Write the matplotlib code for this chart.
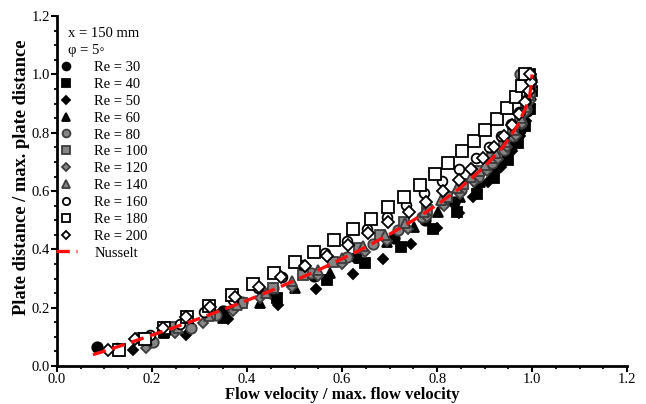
import matplotlib
matplotlib.use("Agg")
import matplotlib.pyplot as plt
from matplotlib.ticker import MultipleLocator, FormatStrFormatter

plt.rcParams['font.family'] = ['Liberation Serif', 'DejaVu Serif']

# ---- data ----
re30_x = [0.085, 0.235, 0.35, 0.45, 0.54, 0.63, 0.71, 0.775, 0.836, 0.884, 0.925, 0.955, 0.975, 0.99, 0.995, 0.99]
re30_y = [0.065, 0.127, 0.19, 0.25, 0.31, 0.374, 0.44, 0.50, 0.562, 0.627, 0.69, 0.75, 0.81, 0.875, 0.94, 1.0]

re40_x = [0.225, 0.35, 0.463, 0.568, 0.648, 0.724, 0.792, 0.842, 0.884, 0.92, 0.949, 0.97, 0.985, 0.995, 1.0, 0.995]
re40_y = [0.117, 0.176, 0.235, 0.294, 0.353, 0.408, 0.47, 0.528, 0.59, 0.645, 0.706, 0.765, 0.824, 0.883, 0.942, 1.0]

re50_x = [0.16, 0.272, 0.36, 0.465, 0.546, 0.622, 0.686, 0.745, 0.80, 0.845, 0.876, 0.907, 0.935, 0.958, 0.975, 0.988, 0.995, 1.0, 0.995]
re50_y = [0.055, 0.106, 0.161, 0.211, 0.264, 0.316, 0.367, 0.42, 0.473, 0.526, 0.58, 0.63, 0.684, 0.737, 0.79, 0.842, 0.895, 0.947, 1.0]

re60_x = [0.225, 0.35, 0.427, 0.501, 0.575, 0.635, 0.695, 0.752, 0.802, 0.848, 0.89, 0.922, 0.948, 0.968, 0.982, 0.992, 0.998, 1.0, 0.99]
re60_y = [0.112, 0.165, 0.216, 0.267, 0.318, 0.37, 0.425, 0.477, 0.53, 0.58, 0.63, 0.68, 0.73, 0.78, 0.83, 0.88, 0.93, 0.97, 1.0]

re80_x = [0.202, 0.282, 0.335, 0.39, 0.455, 0.535, 0.61, 0.665, 0.718, 0.768, 0.812, 0.85, 0.885, 0.915, 0.94, 0.96, 0.976, 0.988, 0.994, 0.996, 0.975]
re80_y = [0.083, 0.13, 0.176, 0.22, 0.266, 0.32, 0.374, 0.42, 0.466, 0.512, 0.558, 0.604, 0.65, 0.696, 0.742, 0.788, 0.834, 0.88, 0.926, 0.97, 1.0]

re100_x = [0.179, 0.24, 0.322, 0.39, 0.455, 0.518, 0.58, 0.635, 0.68, 0.73, 0.779, 0.82, 0.855, 0.888, 0.915, 0.94, 0.96, 0.975, 0.988, 0.995, 0.998, 0.99]
re100_y = [0.096, 0.135, 0.175, 0.217, 0.266, 0.312, 0.358, 0.404, 0.45, 0.494, 0.535, 0.58, 0.625, 0.67, 0.715, 0.76, 0.805, 0.85, 0.895, 0.94, 0.98, 1.0]

re120_x = [0.187, 0.248, 0.307, 0.37, 0.427, 0.495, 0.55, 0.60, 0.648, 0.695, 0.738, 0.778, 0.815, 0.848, 0.878, 0.905, 0.928, 0.948, 0.965, 0.978, 0.988, 0.995, 0.998, 1.0, 0.995]
re120_y = [0.062, 0.113, 0.147, 0.19, 0.233, 0.27, 0.31, 0.35, 0.39, 0.43, 0.47, 0.51, 0.55, 0.59, 0.63, 0.67, 0.71, 0.75, 0.79, 0.83, 0.87, 0.91, 0.95, 0.98, 1.0]

re140_x = [0.13, 0.19, 0.255, 0.32, 0.38, 0.44, 0.495, 0.55, 0.60, 0.645, 0.69, 0.732, 0.772, 0.808, 0.842, 0.872, 0.90, 0.924, 0.945, 0.962, 0.976, 0.987, 0.994, 0.998, 0.99]
re140_y = [0.05, 0.09, 0.13, 0.17, 0.21, 0.25, 0.29, 0.33, 0.37, 0.41, 0.45, 0.49, 0.53, 0.57, 0.61, 0.65, 0.69, 0.73, 0.77, 0.81, 0.85, 0.89, 0.93, 0.965, 1.0]

re160_x = [0.126, 0.196, 0.259, 0.31, 0.37, 0.423, 0.474, 0.518, 0.564, 0.61, 0.652, 0.695, 0.735, 0.773, 0.81, 0.846, 0.882, 0.91, 0.935, 0.955, 0.972, 0.985, 0.994, 0.998, 0.99]
re160_y = [0.062, 0.106, 0.144, 0.185, 0.226, 0.266, 0.305, 0.346, 0.387, 0.428, 0.47, 0.511, 0.552, 0.593, 0.634, 0.675, 0.713, 0.752, 0.79, 0.83, 0.87, 0.91, 0.95, 0.98, 1.0]

re180_x = [0.13, 0.185, 0.225, 0.274, 0.32, 0.368, 0.413, 0.457, 0.50, 0.541, 0.583, 0.623, 0.661, 0.697, 0.73, 0.764, 0.796, 0.823, 0.853, 0.878, 0.901, 0.926, 0.947, 0.966, 0.979, 0.985]
re180_y = [0.055, 0.093, 0.13, 0.168, 0.205, 0.243, 0.28, 0.319, 0.356, 0.39, 0.432, 0.47, 0.504, 0.545, 0.58, 0.62, 0.658, 0.696, 0.737, 0.771, 0.809, 0.847, 0.884, 0.922, 0.96, 1.0]

re200_x = [0.107, 0.165, 0.223, 0.272, 0.322, 0.375, 0.425, 0.472, 0.522, 0.568, 0.613, 0.655, 0.697, 0.74, 0.777, 0.812, 0.845, 0.872, 0.897, 0.92, 0.94, 0.958, 0.972, 0.985, 0.993, 0.998, 0.995]
re200_y = [0.055, 0.093, 0.13, 0.167, 0.203, 0.237, 0.271, 0.307, 0.343, 0.379, 0.415, 0.455, 0.494, 0.528, 0.562, 0.60, 0.638, 0.676, 0.714, 0.752, 0.79, 0.828, 0.866, 0.904, 0.942, 0.975, 1.0]

nusselt_x = [0.076, 0.10, 0.15, 0.20, 0.25, 0.30, 0.35, 0.40, 0.45, 0.50, 0.55, 0.60, 0.65, 0.70, 0.75, 0.80, 0.85, 0.90, 0.94, 0.97, 0.99, 0.995, 1.0]
nusselt_y = [0.039, 0.051, 0.078, 0.106, 0.134, 0.163, 0.194, 0.225, 0.258, 0.293, 0.329, 0.368, 0.408, 0.452, 0.50, 0.553, 0.613, 0.684, 0.755, 0.827, 0.90, 0.929, 1.0]

header_lines = ["x = 150 mm", "\u03c6 = 5\u25e6"]
series_labels = ["Re = 30", "Re = 40", "Re = 50", "Re = 60", "Re = 80", "Re = 100",
                 "Re = 120", "Re = 140", "Re = 160", "Re = 180", "Re = 200"]

# ---- styling ----
BLACK = 'black'
GRAY = '#858585'
GEDGE = '#3c3c3c'
WHITE = 'white'
styles = [
    ('o', BLACK, BLACK, 7.5),
    ('s', BLACK, BLACK, 7.5),
    ('D', BLACK, BLACK, 5.5),
    ('^', BLACK, BLACK, 7.0),
    ('o', GRAY, GEDGE, 7.5),
    ('s', GRAY, GEDGE, 7.5),
    ('D', GRAY, GEDGE, 5.5),
    ('^', GRAY, GEDGE, 7.0),
    ('o', WHITE, BLACK, 7.0),
    ('s', WHITE, BLACK, 8.0),
    ('D', WHITE, BLACK, 6.0),
]
data = [(re30_x, re30_y), (re40_x, re40_y), (re50_x, re50_y), (re60_x, re60_y),
        (re80_x, re80_y), (re100_x, re100_y), (re120_x, re120_y), (re140_x, re140_y),
        (re160_x, re160_y), (re180_x, re180_y), (re200_x, re200_y)]

fig = plt.figure(figsize=(6.46, 4.04), dpi=100)
ax = fig.add_axes([0.088, 0.094, 0.883, 0.866])

handles = []
for (xs, ys), (m, fc, ec, ms), lab in zip(data, styles, series_labels):
    h, = ax.plot(xs, ys, linestyle='none', marker=m, markersize=ms,
                 markerfacecolor=fc, markeredgecolor=ec, markeredgewidth=1.3,
                 label=lab, zorder=3)
    handles.append(h)

nl, = ax.plot(nusselt_x, nusselt_y, color='#ff1010', linestyle=(0, (4.0, 2.0)),
              linewidth=2.4, label='Nusselt', zorder=5)
handles.append(nl)

ax.set_xlim(0, 1.2)
ax.set_ylim(0, 1.2)
ax.xaxis.set_major_locator(MultipleLocator(0.2))
ax.xaxis.set_minor_locator(MultipleLocator(0.05))
ax.yaxis.set_major_locator(MultipleLocator(0.2))
ax.yaxis.set_minor_locator(MultipleLocator(0.05))
ax.xaxis.set_major_formatter(FormatStrFormatter('%.1f'))
ax.yaxis.set_major_formatter(FormatStrFormatter('%.1f'))
for s in ['top', 'right']:
    ax.spines[s].set_visible(False)
for s in ['left', 'bottom']:
    ax.spines[s].set_linewidth(2.0)
ax.tick_params(which='major', direction='out', length=4.0, width=1.5, labelsize=10.5, pad=1.0)
ax.tick_params(which='minor', direction='out', length=2.4, width=1.3)

ax.set_xlabel('Flow velocity / max. flow velocity', fontsize=12, fontweight='bold', labelpad=1.0)
ax.set_ylabel('Plate distance / max. plate distance', fontsize=13.3, fontweight='bold')
ax.yaxis.set_label_coords(-0.047, 0.54)

# header text above the legend entries
ax.text(0.023, 1.141, header_lines[0], fontsize=10.5, ha='left', va='center')
ax.text(0.023, 1.083, header_lines[1], fontsize=10.5, ha='left', va='center')

leg = ax.legend(handles=handles, loc='upper left', bbox_to_anchor=(-0.001, 0.872),
                frameon=False, fontsize=10.5, handlelength=1.4, markerscale=0.75,
                handletextpad=1.2, labelspacing=0.25, borderaxespad=0.0,
                borderpad=0.0)

fig.savefig('out.png', dpi=100)
